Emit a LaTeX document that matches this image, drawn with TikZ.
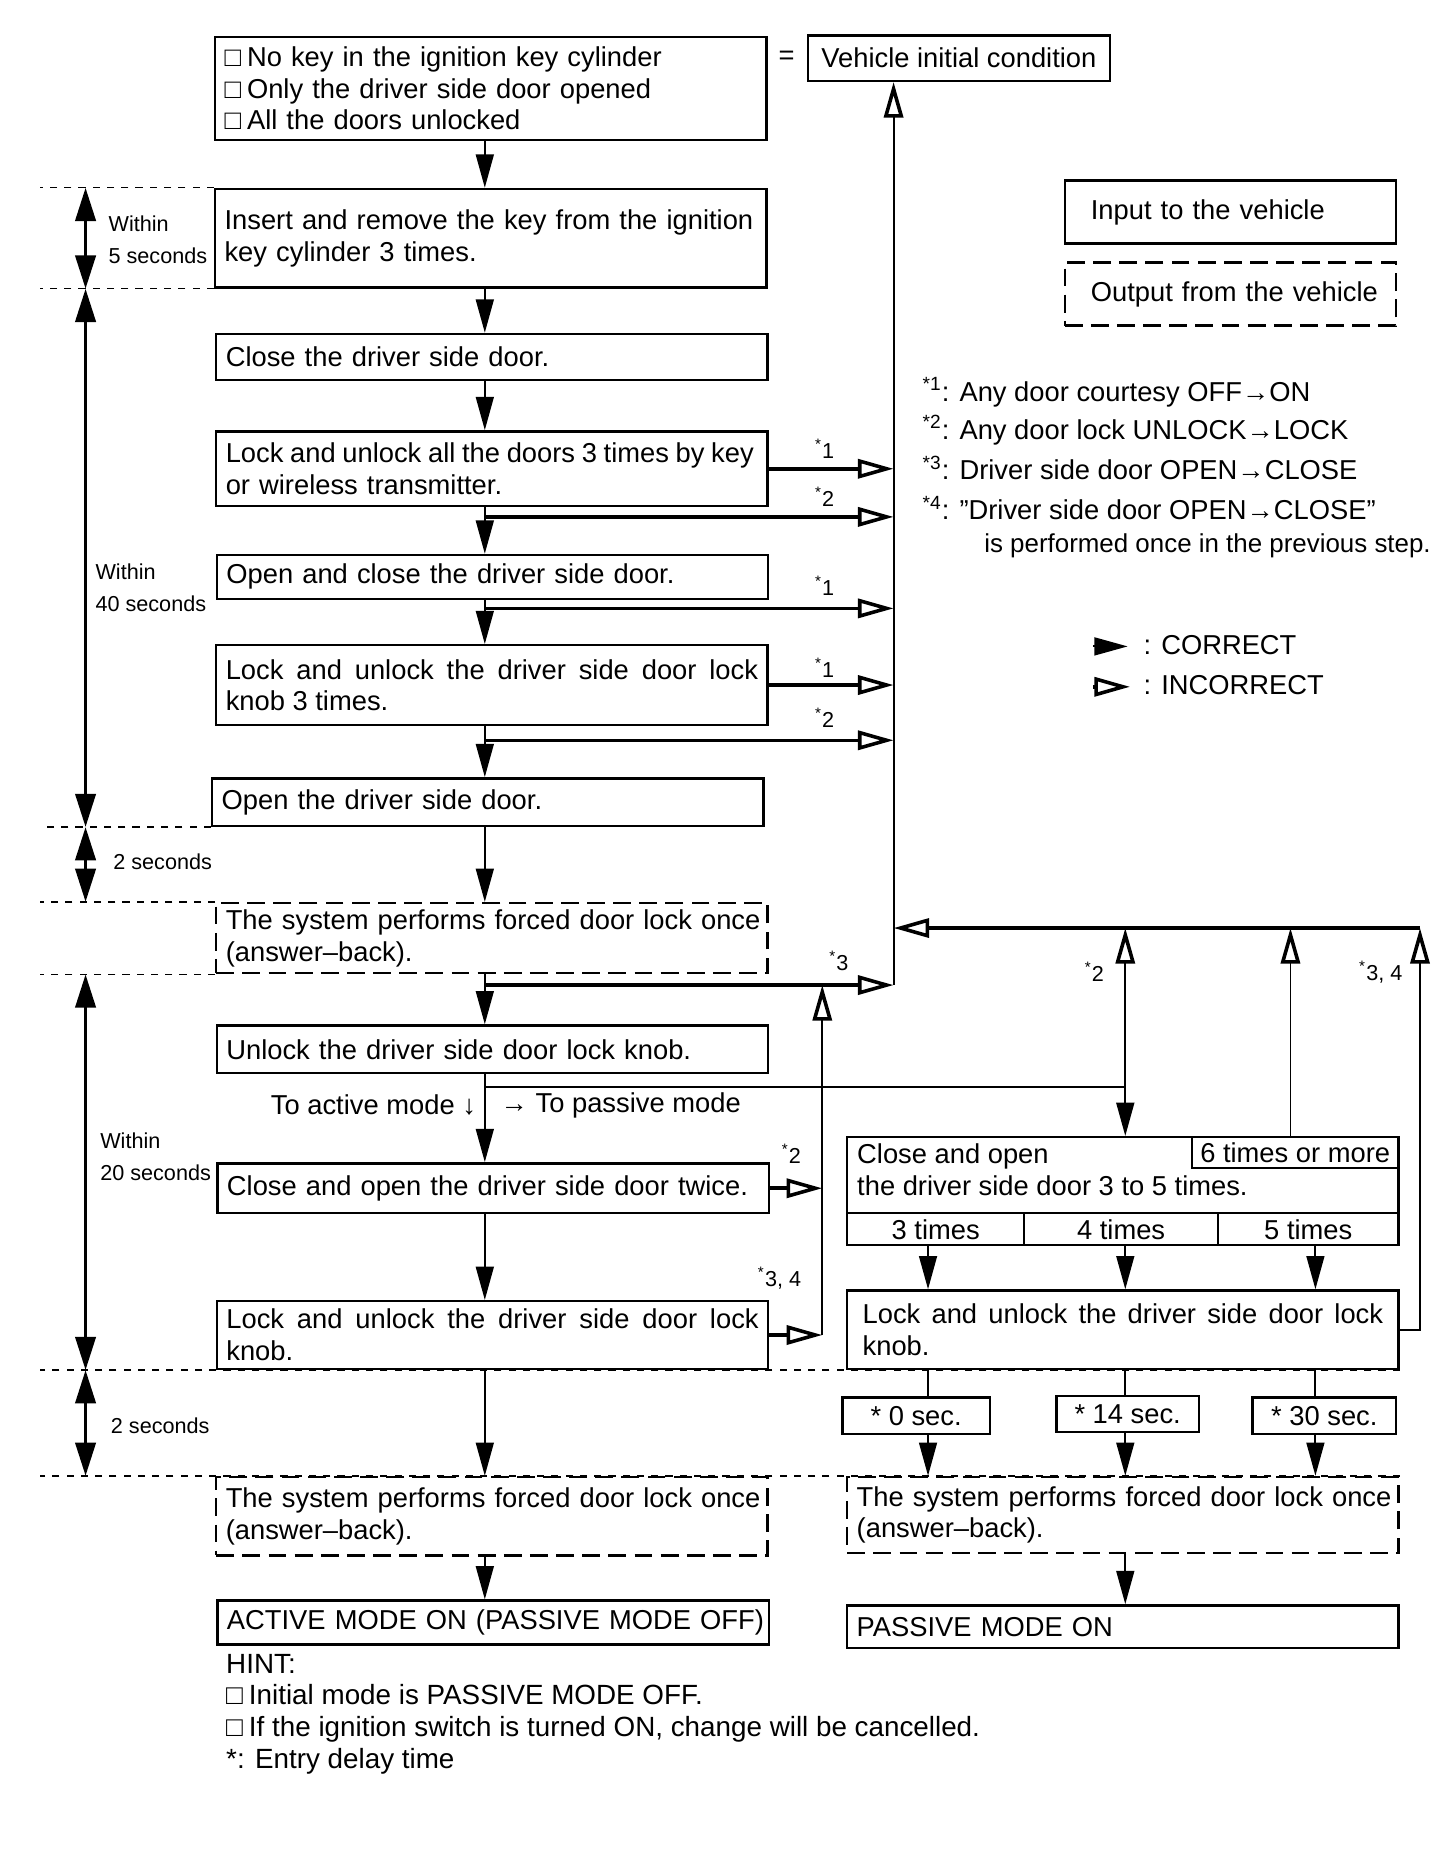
\documentclass[tikz,border=0pt]{standalone}
\usepackage{fontspec}
\setmainfont{Liberation Sans}
\usetikzlibrary{
  arrows.meta,
  calc
}
\newcommand{\mainSize}{\fontsize{11.5pt}{13.3pt}\selectfont}
\newcommand{\hintSize}{\fontsize{11.7pt}{13.3pt}\selectfont}
\newcommand{\smallSize}{\fontsize{9.1pt}{13.5pt}\selectfont}
\newcommand{\tick}{□\hspace{2.5pt}}
\newcommand{\starLabel}[3]{\node[starLabel] (#1) at (#2)%
  {\textsuperscript{*}#3};}
\tikzset{
  box/.style={
    draw,
    line width=1pt,
    minimum width=232pt,
    text width=224pt,
    inner xsep=4pt,
    inner ysep=0pt,
    align=left,
    font=\mainSize
  },
  outbox/.style={
    box,
    dash pattern=on 7.5pt off 3.5pt
  }
}
\tikzset{
  tag/.style={draw, line width=1pt, inner sep=0pt, font=\mainSize},
  plain/.style={inner sep=0pt, font=\mainSize},
  noteLine/.style={plain, anchor=west, text height=1.5ex, text depth=.25ex},
  timeLabel/.style={inner sep=0pt, anchor=west, align=left, font=\smallSize},
  starLabel/.style={inner sep=0pt, font=\smallSize}
}
\tikzset{
  guide/.style={line width=0.6pt, dash pattern=on 3pt off 3pt},
  flow/.style={line width=0.9pt},
  arr/.style={-{Triangle[length=14pt, width=7.5pt]}, line width=0.9pt},
  inc/.style={-{Triangle[open, length=15pt, width=8pt]}, line width=1.5pt},
  incthin/.style={-{Triangle[open, length=15pt, width=8pt, line width=1.5pt]},
    line width=0.8pt},
  span/.style={{Triangle[length=14pt, width=8.5pt]}-{Triangle[length=14pt, width=8.5pt]},
    line width=1.5pt}
}

\begin{document}
\begin{tikzpicture}[x=0.5pt, y=-0.5pt]
    \useasboundingbox (0,0) rectangle (1225,1567);
    % main column
    \node[box, minimum height=43.5pt] (init) at (413,74.5)
      {\tick No key in the ignition key cylinder\\\tick Only the driver side door opened\\\tick All the doors unlocked};
    \node[plain] (eq) at (662,49) {=};
    \node[tag, minimum width=127pt, minimum height=19pt] (vic) at (807,49)
      {Vehicle initial condition};
    \node[box, minimum height=41.5pt] (insert) at (413,200.5)
      {\mbox{Insert and remove the key from the ignition}\\key cylinder 3 times.};
    \node[box, minimum height=19.5pt] (closedoor) at (414,300.5)
      {Close the driver side door.};
    \node[box, minimum height=31.5pt] (lockkey) at (414,394.5)
      {\mbox{\spaceskip=0.88\fontdimen2\font Lock and unlock all the doors 3 times by key}\\or wireless transmitter.};
    \node[box, minimum height=18.5pt] (openclose) at (414.5,485.5)
      {Open and close the driver side door.};
    \node[box, align=justify, minimum height=33.5pt] (lockknobA) at (414,576.5)
      {Lock and unlock the driver side door lock knob 3 times.};
    \node[box, minimum height=20pt] (opendoor) at (410.5,675)
      {Open the driver side door.};
    \node[outbox, minimum height=29.5pt] (answerA) at (414,789.5)
      {\mbox{The system performs forced door lock once}\\(answer–back).};
    \node[box, minimum height=20pt] (unlock) at (414.5,883)
      {Unlock the driver side door lock knob.};
    \node[plain, anchor=east] (toactive) at (401,930) {To active mode ↓};
    \node[plain, anchor=west] (topassive) at (421,930) {→ To passive mode};
    \node[box, minimum height=21pt] (twice) at (415,1000)
      {Close and open the driver side door twice.};
    \node[box, align=justify, minimum height=28.5pt] (lockknobB) at (414.5,1123.5)
      {Lock and unlock the driver side door lock knob.};
    \node[outbox, minimum height=33pt] (answerB) at (414,1276)
      {\mbox{The system performs forced door lock once}\\(answer–back).};
    \node[box, minimum height=18.5pt] (active) at (415,1365.5)
      {\mbox{ACTIVE MODE ON (PASSIVE MODE OFF)}};
    \foreach \n/\yy/\txt in {1/1402/{HINT:},
      2/1428/{\tick Initial mode is PASSIVE MODE OFF.},
      3/1455/{\tick If the ignition switch is turned ON, change will be cancelled.},
      4/1482/{*: Entry delay time}}{
      \node[noteLine, font=\hintSize] (hint\n) at (190,\yy) {\txt};
    }

    % passive mode column
    \node[box, minimum height=45.5pt] (closeopen5) at (945,1002.5) {};
    \node[plain, anchor=north west, align=left] (co5text) at (721,962)
      {Close and open\\the driver side door 3 to 5 times.};
    \node[tag, minimum width=87pt, minimum height=13pt] (more6) at (1090,970)
      {6 times or more};
    \node[tag, minimum width=74.5pt, minimum height=13.5pt] (t3) at (787.5,1034.5) {3 times};
    \node[tag, minimum width=81.5pt, minimum height=13.5pt] (t4) at (943.5,1034.5) {4 times};
    \node[tag, minimum width=76pt, minimum height=13.5pt] (t5) at (1101,1034.5) {5 times};
    \node[box, align=justify, inner xsep=6.5pt, text width=219pt, minimum height=33pt]
      (lockknobC) at (945,1119) {Lock and unlock the driver side door lock knob.};
    \node[tag, minimum width=62pt, minimum height=15.5pt] (s0) at (771,1191.5) {* 0 sec.};
    \node[tag, minimum width=60pt, minimum height=15pt] (s14) at (949,1190) {* 14 sec.};
    \node[tag, minimum width=60.5pt, minimum height=15.5pt] (s30) at (1114.5,1191.5) {* 30 sec.};
    \node[outbox, minimum height=32pt] (answerC) at (945,1275)
      {\mbox{The system performs forced door lock once}\\(answer–back).};
    \node[box, minimum height=18pt] (passive) at (945,1369) {PASSIVE MODE ON};

    % legend and notes
    \node[box, inner xsep=11pt, text width=117.5pt, minimum width=139.5pt,
      minimum height=26.5pt] (inlegend) at (1035.5,178.5) {Input to the vehicle};
    \node[outbox, inner xsep=11pt, text width=117.5pt, minimum width=139.5pt,
      minimum height=26.5pt] (outlegend) at (1035.5,247.5) {\mbox{Output from the vehicle}};
    \node[noteLine] (note1) at (776,331) {\textsuperscript{*1}: Any door courtesy OFF→ON};
    \node[noteLine] (note2) at (776,363) {\textsuperscript{*2}: Any door lock UNLOCK→LOCK};
    \node[noteLine] (note3) at (776,397) {\textsuperscript{*3}: Driver side door OPEN→CLOSE};
    \node[noteLine] (note4) at (776,431) {\textsuperscript{*4}: ”Driver side door OPEN→CLOSE”};
    \node[noteLine, font=\fontsize{10.9pt}{13pt}\selectfont] (note4b) at (828,458)
      {is performed once in the previous step.};
    \coordinate (corrA) at (920,544);
    \coordinate (corrB) at (949,544);
    \coordinate (incA) at (920,578);
    \coordinate (incB) at (951,578);
    \draw[arr] (corrA) -- (corrB);
    \draw[inc] (incA) -- (incB);
    \node[noteLine] (corrText) at (962,544) {: CORRECT};
    \node[noteLine] (incText) at (962,578) {: INCORRECT};

    % helper columns
    \coordinate (trunk) at (408,0);
    \coordinate (rline) at (752,0);
    \coordinate (lvert) at (692,0);
    \coordinate (col3) at (781,0);
    \coordinate (col4) at (947,0);
    \coordinate (col5) at (1107,0);
    \coordinate (col6) at (1086,0);
    \coordinate (fbr) at (1195,781);
    \coordinate (sp) at (72,0);
    \coordinate (gl) at (34,0);
    \coordinate (b1) at (408,435);
    \coordinate (b2) at (408,512);
    \coordinate (b3) at (408,623);
    \coordinate (b4) at (408,829);
    \coordinate (b5) at (408,915);

    % correct flow
    \foreach \srcBox/\dstBox in {init/insert, insert/closedoor, closedoor/lockkey,
      lockkey/openclose, openclose/lockknobA, lockknobA/opendoor, opendoor/answerA,
      answerA/unlock, unlock/twice, twice/lockknobB, lockknobB/answerB, answerB/active}{
      \draw[arr] (\srcBox.south -| trunk) -- (\dstBox.north -| trunk);
    }
    \draw[flow] (b5) -- (b5 -| col4);
    \draw[arr] (b5 -| col4) -- (col4 |- closeopen5.north);
    \draw[arr] (t3.south -| col3) -- (col3 |- lockknobC.north);
    \draw[arr] (t4.south -| col4) -- (col4 |- lockknobC.north);
    \draw[arr] (t5.south -| col5) -- (col5 |- lockknobC.north);
    \foreach \col/\delay in {col3/s0, col4/s14, col5/s30}{
      \draw[flow] (lockknobC.south -| \col) -- (\col |- \delay.north);
      \draw[arr] (\delay.south -| \col) -- (\col |- answerC.north);
    }
    \draw[arr] (answerC.south -| col4) -- (col4 |- passive.north);

    % incorrect inputs
    \draw[incthin] (b4 -| rline) -- (rline |- vic.south);
    \draw[inc] (lockkey.east) -- (lockkey.east -| rline);
    \draw[inc] (lockknobA.east) -- (lockknobA.east -| rline);
    \foreach \src in {b1, b2, b3, b4}{
      \draw[inc] (\src) -- (\src -| rline);
    }
    \draw[inc] (fbr) -- (fbr -| rline);
    \draw[incthin] (b5 -| col4) -- (col4 |- fbr);
    \draw[incthin] (more6.north -| col6) -- (col6 |- fbr);
    \draw[incthin] (lockknobC.east) -- (lockknobC.east -| fbr) -- (fbr);
    \draw[incthin] (lockknobB.east -| lvert) -- (lvert |- b4);
    \draw[inc] (twice.east) -- (twice.east -| lvert);
    \draw[inc] (lockknobB.east) -- (lockknobB.east -| lvert);
    \starLabel{sA}{694,378}{1}
    \starLabel{sB}{694,418}{2}
    \starLabel{sC}{694,493}{1}
    \starLabel{sD}{694,562}{1}
    \starLabel{sE}{694,604}{2}
    \starLabel{sF}{706,809}{3}
    \starLabel{sG}{666,971}{2}
    \starLabel{sH}{656,1076}{3, 4}
    \starLabel{sI}{921,818}{2}
    \starLabel{sJ}{1162,818}{3, 4}

    % time limits
    \draw[guide] (insert.north west) -- (insert.north west -| gl);
    \draw[guide] (insert.south west) -- (insert.south west -| gl);
    \draw[guide] (opendoor.south west) -- (opendoor.south west -| gl);
    \draw[guide] (answerA.north west) -- (answerA.north west -| gl);
    \draw[guide] (answerA.south west) -- (answerA.south west -| gl);
    \draw[guide] (lockknobC.south east) -- (lockknobC.south east -| gl);
    \draw[guide] (answerC.north east) -- (answerC.north east -| gl);
    \draw[span] (insert.north -| sp) -- (insert.south -| sp);
    \draw[span] (insert.south -| sp) -- (opendoor.south -| sp);
    \draw[span] (opendoor.south -| sp) -- (answerA.north -| sp);
    \draw[span] (answerA.south -| sp) -- (lockknobB.south -| sp);
    \draw[span] (lockknobB.south -| sp) -- (answerB.north -| sp);
    \node[timeLabel] (w5) at (91,201.5) {Within\\5 seconds};
    \node[timeLabel] (w40) at (80,494.5) {Within\\40 seconds};
    \node[timeLabel] (w2a) at (95,725) {2 seconds};
    \node[timeLabel] (w20) at (84,973.5) {Within\\20 seconds};
    \node[timeLabel] (w2b) at (93,1200) {2 seconds};
  \end{tikzpicture}
\end{document}
